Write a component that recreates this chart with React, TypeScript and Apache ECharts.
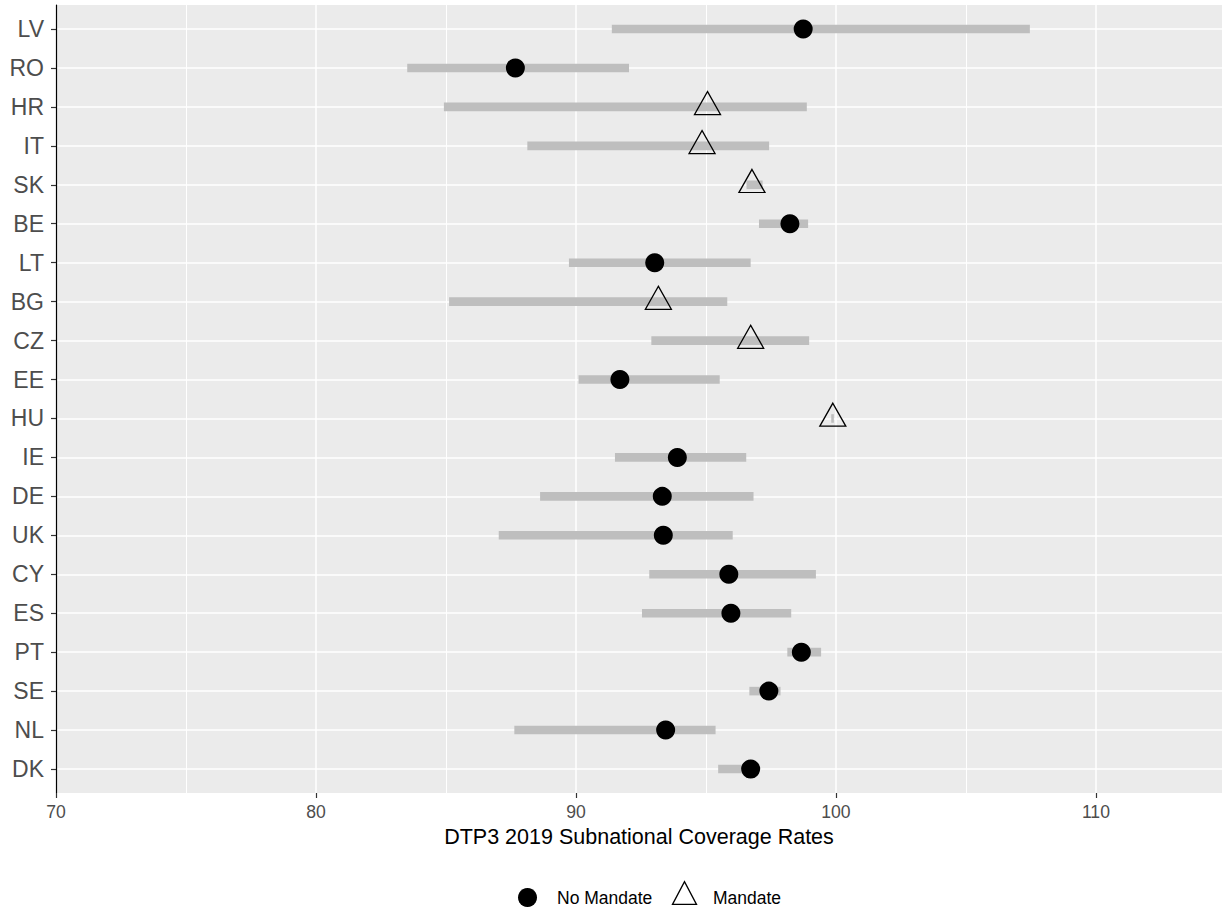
import React, { useEffect, useRef } from "react";
import * as echarts from "echarts";

const countries = ["LV", "RO", "HR", "IT", "SK", "BE", "LT", "BG", "CZ", "EE", "HU", "IE", "DE", "UK", "CY", "ES", "PT", "SE", "NL", "DK"];
const meanRate = [98.74, 87.67, 95.06, 94.85, 96.77, 98.23, 93.03, 93.17, 96.72, 91.69, 99.88, 93.9, 93.32, 93.36, 95.88, 95.96, 98.67, 97.42, 93.45, 96.72];
const lowRate = [91.38, 83.51, 84.92, 88.13, 96.56, 97.04, 89.73, 85.12, 92.9, 90.1, 99.82, 91.5, 88.62, 87.03, 92.82, 92.54, 98.13, 96.67, 87.63, 95.47];
const highRate = [107.46, 92.04, 98.88, 97.43, 97.18, 98.93, 96.72, 95.82, 98.97, 95.53, 99.92, 96.55, 96.83, 96.03, 99.23, 98.28, 99.43, 97.87, 95.37, 96.9];
const mandate = [0, 0, 1, 1, 1, 0, 0, 1, 1, 0, 1, 0, 0, 0, 0, 0, 0, 0, 0, 0];
const xTicks = [70, 80, 90, 100, 110];
const xMin = 70;
const xMax = 114.85;
const xTitle = "DTP3 2019 Subnational Coverage Rates";
const legendLabels = ["No Mandate", "Mandate"];

const FONT = "'Liberation Sans', Arial, Helvetica, sans-serif";

export default function App() {
  const ref = useRef<HTMLDivElement>(null);
  useEffect(() => {
    if (!ref.current) return;
    const chart = echarts.init(ref.current, null, { renderer: "svg" });

    const rangeData = countries.map((_, i) => [lowRate[i], highRate[i], i]);
    const noMandateData = countries
      .map((_, i) => (mandate[i] === 0 ? [meanRate[i], i] : null))
      .filter((d) => d !== null);
    const mandateData = countries
      .map((_, i) => (mandate[i] === 1 ? [meanRate[i], i] : null))
      .filter((d) => d !== null);

    const option: any = {
      animation: false,
      backgroundColor: "#FFFFFF",
      textStyle: { fontFamily: FONT },
      grid: [
        { left: 56, right: 1, top: 5, bottom: 116, show: true, backgroundColor: "#EBEBEB", borderWidth: 0, containLabel: false },
        { left: 56, right: 1, top: 29, bottom: 140, show: false, containLabel: false },
      ],
      xAxis: [
        {
          type: "value",
          gridIndex: 0,
          min: xMin,
          max: xMax,
          interval: 10,
          position: "bottom",
          axisLine: { show: false },
          axisTick: { show: true, length: 5, lineStyle: { color: "#333333", width: 1.2 }, customValues: xTicks },
          axisLabel: {
            show: true,
            color: "#4D4D4D",
            fontSize: 17.6,
            fontFamily: FONT,
            margin: 10,
            customValues: xTicks,
          },
          splitLine: { show: true, lineStyle: { color: "#FFFFFF", width: 1.5 } },
          minorTick: { show: false, splitNumber: 2 },
          minorSplitLine: { show: true, lineStyle: { color: "#FFFFFF", width: 1.0 } },
          name: xTitle,
          nameLocation: "middle",
          nameGap: 30,
          nameTextStyle: { color: "#000000", fontSize: 21.5, fontFamily: FONT },
        },
        {
          type: "value",
          gridIndex: 1,
          min: xMin,
          max: xMax,
          show: false,
        },
      ],
      yAxis: [
        {
          type: "value",
          gridIndex: 0,
          min: 0,
          max: 1,
          axisLine: { show: true, lineStyle: { color: "#000000", width: 1.2 } },
          axisTick: { show: false },
          axisLabel: { show: false },
          splitLine: { show: false },
        },
        {
          type: "category",
          gridIndex: 1,
          data: countries,
          inverse: true,
          boundaryGap: false,
          axisLine: { show: false },
          axisTick: { show: true, length: 5, lineStyle: { color: "#333333", width: 1.2 } },
          axisLabel: { color: "#4D4D4D", fontSize: 23, fontFamily: FONT, margin: 12 },
          splitLine: { show: true, lineStyle: { color: "#FFFFFF", width: 1.5 } },
        },
      ],
      series: [
        {
          type: "custom",
          name: "range",
          xAxisIndex: 1,
          yAxisIndex: 1,
          data: rangeData,
          encode: { x: [0, 1], y: 2 },
          renderItem: (params: any, api: any) => {
            const lo = api.value(0);
            const hi = api.value(1);
            const idx = api.value(2);
            const s = api.coord([lo, idx]);
            const e = api.coord([hi, idx]);
            return {
              type: "rect",
              shape: { x: s[0], y: s[1] - 4.3, width: Math.max(e[0] - s[0], 1), height: 8.6 },
              style: { fill: "#BEBEBE" },
            };
          },
          z: 2,
        },
        {
          type: "scatter",
          name: legendLabels[0],
          xAxisIndex: 1,
          yAxisIndex: 1,
          data: noMandateData,
          symbol: "circle",
          symbolSize: 19,
          itemStyle: { color: "#000000", opacity: 1 },
          z: 3,
        },
        {
          type: "scatter",
          name: legendLabels[1],
          xAxisIndex: 1,
          yAxisIndex: 1,
          data: mandateData,
          symbol: "triangle",
          symbolSize: [26, 23],
          symbolOffset: [0, -3.8],
          itemStyle: { color: "rgba(0,0,0,0)", borderColor: "#000000", borderWidth: 1.3, opacity: 1 },
          z: 4,
        },
      ],
      graphic: [
        {
          type: "circle",
          shape: { cx: 527.5, cy: 897.5, r: 9.5 },
          style: { fill: "#000000" },
        },
        {
          type: "text",
          x: 557,
          y: 897.5,
          style: { text: legendLabels[0], fill: "#000000", font: `17.5px ${FONT}`, verticalAlign: "middle", align: "left" },
        },
        {
          type: "polygon",
          shape: { points: [[672.5, 904.4], [684.5, 881.7], [696.5, 904.4]] },
          style: { fill: "none", stroke: "#000000", lineWidth: 1.3 },
        },
        {
          type: "text",
          x: 713,
          y: 897.5,
          style: { text: legendLabels[1], fill: "#000000", font: `17.5px ${FONT}`, verticalAlign: "middle", align: "left" },
        },
      ],
    };

    chart.setOption(option);
    return () => chart.dispose();
  }, []);

  return <div ref={ref} style={{ position: "fixed", left: 0, top: 0, width: 1223, height: 909 }} />;
}
